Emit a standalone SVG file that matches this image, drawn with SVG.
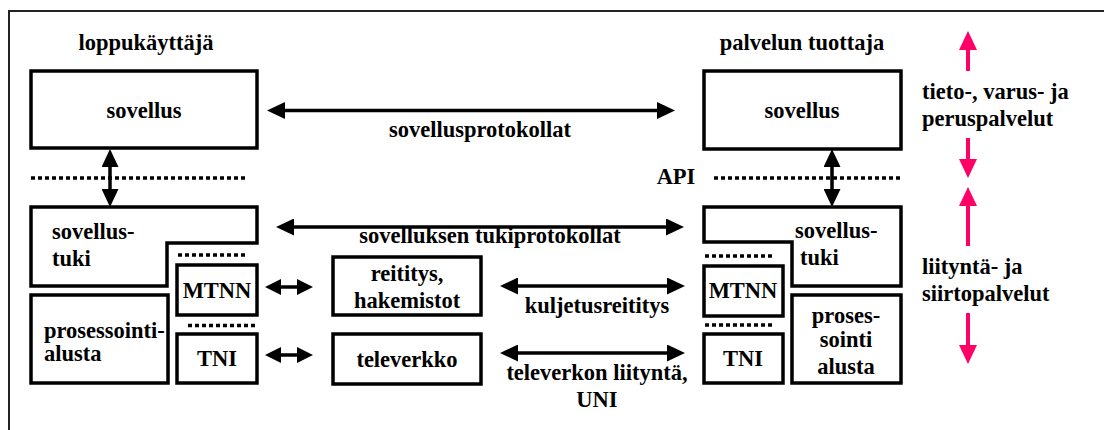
<svg xmlns="http://www.w3.org/2000/svg" width="1104" height="430" viewBox="0 0 1104 430">
<defs>
<style>
.t{font-family:'Liberation Serif','Times New Roman','DejaVu Serif',serif;font-weight:700;font-size:22.5px;fill:#000}
.m{text-anchor:middle}
.box{fill:#fff;stroke:#000;stroke-width:3.5}
.dot{stroke:#000;stroke-width:3.5;stroke-dasharray:4 3;fill:none}
.arr{stroke:#000;stroke-width:3.5;fill:none;marker-start:url(#ah);marker-end:url(#ah)}
.sarr{stroke:#000;stroke-width:3.5;fill:none;marker-start:url(#sh);marker-end:url(#sh)}
.pk{stroke:#FF0066;stroke-width:4;fill:none;marker-end:url(#ph)}
</style>
<marker id="ah" viewBox="0 0 18 17" refX="8" refY="8.5" markerWidth="18" markerHeight="17" markerUnits="userSpaceOnUse" orient="auto-start-reverse"><path d="M0,0 L18,8.5 L0,17 z" fill="#000"/></marker>
<marker id="sh" viewBox="0 0 16 16" refX="6" refY="8" markerWidth="16" markerHeight="16" markerUnits="userSpaceOnUse" orient="auto-start-reverse"><path d="M0,0 L16,8 L0,16 z" fill="#000"/></marker>
<marker id="ph" viewBox="0 0 19 18" refX="8" refY="9" markerWidth="19" markerHeight="18" markerUnits="userSpaceOnUse" orient="auto"><path d="M0,0 L19,9 L0,18 z" fill="#FF0066"/></marker>
</defs>
<rect width="1104" height="430" fill="#fff"/>
<path d="M9,430 V11 H1104" fill="none" stroke="#222" stroke-width="2"/>

<g id="connectors">
<line class="arr" x1="277" y1="110.5" x2="665" y2="110.5"/>
<line class="arr" x1="286" y1="227" x2="674" y2="227"/>
<line class="arr" x1="510" y1="286" x2="675" y2="286"/>
<line class="arr" x1="510" y1="353" x2="675" y2="353"/>
<line class="sarr" x1="275" y1="287" x2="303" y2="287"/>
<line class="sarr" x1="275" y1="355" x2="303" y2="355"/>
<line class="arr" x1="110" y1="159" x2="110" y2="197"/>
<line class="arr" x1="832" y1="159" x2="832" y2="197"/>
<line class="pk" x1="968" y1="71" x2="968" y2="42"/>
<line class="pk" x1="968" y1="138" x2="968" y2="167"/>
<line class="pk" x1="968" y1="246" x2="968" y2="198"/>
<line class="pk" x1="968" y1="313" x2="968" y2="353"/>
<line class="dot" x1="31" y1="178" x2="246" y2="178"/>
<line class="dot" x1="714" y1="178" x2="900" y2="178"/>
<line class="dot" x1="178" y1="255" x2="246" y2="255"/>
<line class="dot" x1="188" y1="325.5" x2="257" y2="325.5"/>
<line class="dot" x1="705" y1="256" x2="773" y2="256"/>
<line class="dot" x1="705" y1="325" x2="773" y2="325"/>
</g>

<g id="labels">
<text class="t m" x="146" y="50">loppukäyttäjä</text>
<text class="t m" x="802" y="50">palvelun tuottaja</text>
<text class="t m" x="480" y="137">sovellusprotokollat</text>
<text class="t m" x="676" y="184">API</text>
<text class="t m" x="490" y="243">sovelluksen tukiprotokollat</text>
<text class="t m" x="597" y="313">kuljetusreititys</text>
<text class="t m" x="597" y="380">televerkon liityntä,</text>
<text class="t m" x="597" y="407">UNI</text>
<text class="t" x="922" y="99">tieto-, varus- ja</text>
<text class="t" x="922" y="126">peruspalvelut</text>
<text class="t" x="922" y="274">liityntä- ja</text>
<text class="t" x="922" y="301">siirtopalvelut</text>
</g>

<g id="sovellus-left">
<rect class="box" x="31" y="71" width="226" height="77"/>
<text class="t m" x="144" y="118">sovellus</text>
</g>
<g id="sovellustuki-left">
<path class="box" d="M31,207 H257 V243 H167 V286 H31 Z"/>
<text class="t" x="52" y="239">sovellus-</text>
<text class="t" x="52" y="266">tuki</text>
</g>
<g id="prosessointi-left">
<rect class="box" x="31" y="295" width="137" height="88"/>
<text class="t" x="44" y="338">prosessointi-</text>
<text class="t" x="44" y="361">alusta</text>
</g>
<g id="mtnn-left">
<rect class="box" x="177" y="265" width="80" height="50"/>
<text class="t m" x="217" y="298">MTNN</text>
</g>
<g id="tni-left">
<rect class="box" x="177" y="334" width="80" height="49"/>
<text class="t m" x="217" y="366">TNI</text>
</g>
<g id="reititys">
<rect class="box" x="333" y="257" width="148" height="58"/>
<text class="t m" x="407" y="281">reititys,</text>
<text class="t m" x="407" y="308">hakemistot</text>
</g>
<g id="televerkko">
<rect class="box" x="333" y="334" width="148" height="50"/>
<text class="t m" x="407" y="367">televerkko</text>
</g>
<g id="sovellus-right">
<rect class="box" x="704" y="71" width="197" height="78"/>
<text class="t m" x="802" y="118">sovellus</text>
</g>
<g id="sovellustuki-right">
<path class="box" d="M704,207 H901 V286 H792 V242 H704 Z"/>
<text class="t" x="795" y="238">sovellus-</text>
<text class="t" x="800" y="265">tuki</text>
</g>
<g id="mtnn-right">
<rect class="box" x="704" y="266" width="79" height="50"/>
<text class="t m" x="743" y="298">MTNN</text>
</g>
<g id="tni-right">
<rect class="box" x="704" y="334" width="79" height="49"/>
<text class="t m" x="743" y="366">TNI</text>
</g>
<g id="prosessointi-right">
<rect class="box" x="792" y="295" width="109" height="88"/>
<text class="t m" x="846" y="323">proses-</text>
<text class="t m" x="846" y="347">sointi</text>
<text class="t m" x="846" y="374">alusta</text>
</g>
</svg>
